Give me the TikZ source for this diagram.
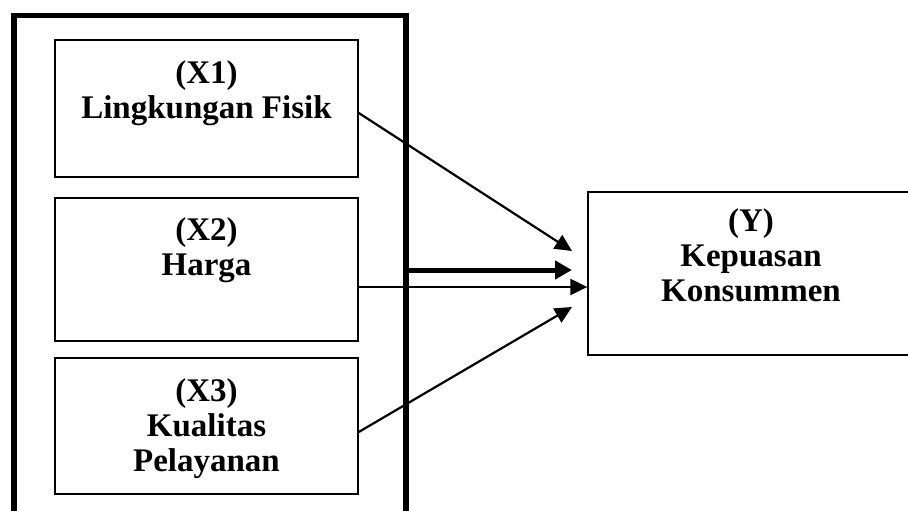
\documentclass[tikz,border=0pt]{standalone}
\usepackage{fontspec}
\setmainfont{Liberation Serif}
\usetikzlibrary{arrows.meta}
\begin{document}
\begin{tikzpicture}[x=1pt,y=-1pt,
  varbox/.style={draw, line width=1.5pt, rectangle, inner sep=0pt},
  outerbox/.style={draw, line width=5.5pt, rectangle, inner sep=0pt},
  lbl/.style={inner sep=0pt, anchor=base, font=\fontsize{33}{35}\selectfont\bfseries},
  arr/.style={line width=2.2pt, -{Triangle[length=17pt,width=16pt]}},
  thickarr/.style={line width=5pt, -{Triangle[length=17pt,width=18pt]}}]
\clip (0,0) rectangle (908,511);
\fill[white] (0,0) rectangle (908,511);
% outer frame (bottom edge lies below the picture)
\node[outerbox, minimum width=392.2pt, minimum height=524.5pt] (frame) at (209.9,277.75) {};
% variable boxes
\node[varbox, minimum width=303pt, minimum height=137pt] (x1) at (206.5,108.5) {};
\node[varbox, minimum width=303pt, minimum height=143pt] (x2) at (206.5,269.5) {};
\node[varbox, minimum width=303pt, minimum height=136pt] (x3) at (206.5,426) {};
\node[varbox, line width=1.3pt, minimum width=350pt, minimum height=163pt] (y) at (763,273.5) {};
% labels
\node[lbl] (l1) at (206.5,83.3) {\begin{tabular}[t]{@{}c@{}}(X1)\\Lingkungan Fisik\end{tabular}};
\node[lbl] (l2) at (206.5,240.5) {\begin{tabular}[t]{@{}c@{}}(X2)\\Harga\end{tabular}};
\node[lbl] (l3) at (206.5,401.7) {\begin{tabular}[t]{@{}c@{}}(X3)\\Kualitas\\Pelayanan\end{tabular}};
\node[lbl] (ly) at (751,231.7) {\begin{tabular}[t]{@{}c@{}}(Y)\\Kepuasan\\Konsummen\end{tabular}};
% arrow tips
\coordinate (t1) at (572,251);
\coordinate (t2) at (572,270);
\coordinate (t3) at (572,307);
% connectors
\draw[arr] (x1.east |- 0,113) -- (t1);
\draw[thickarr] (frame.east |- 0,270) -- (t2);
\draw[arr] (x2.east |- 0,287) -- (y.west |- 0,287);
\draw[arr] (x3.east |- 0,432) -- (t3);
\end{tikzpicture}
\end{document}
